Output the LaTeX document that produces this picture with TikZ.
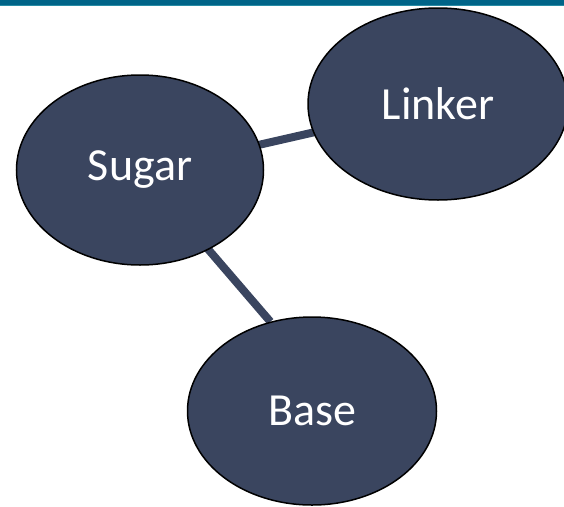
\documentclass[tikz,border=0pt]{standalone}
\usepackage{fontspec}
\setmainfont{Carlito}
\usetikzlibrary{shapes.geometric,backgrounds}
\definecolor{navy}{RGB}{58,69,95}
\definecolor{barteal}{RGB}{0,100,136}
\definecolor{barline}{RGB}{40,140,165}
\begin{document}
\begin{tikzpicture}[x=1pt,y=-1pt,
  blob/.style={ellipse,draw=black,line width=1.5pt,fill=navy,text=white,
    font=\fontsize{46}{50}\selectfont,inner sep=0pt},
  link/.style={draw=navy,line width=8pt}]
\useasboundingbox (0,0) rectangle (564,506);
\node[blob,minimum width=247pt,minimum height=190pt] (sugar) at (140,170) {Sugar};
\node[blob,minimum width=260pt,minimum height=192pt] (linker) at (438,104) {Linker};
\node[blob,minimum width=249pt,minimum height=188pt] (base) at (312,411) {Base};
\begin{pgfonlayer}{background}
\fill[barteal] (0,0) rectangle (564,5);
\fill[barline] (0,5) rectangle (564,6.3);
\draw[link] ([yshift=-2pt]sugar.center) -- (linker.center);
\draw[link] (sugar.center) -- (base.115);
\end{pgfonlayer}
\end{tikzpicture}
\end{document}
